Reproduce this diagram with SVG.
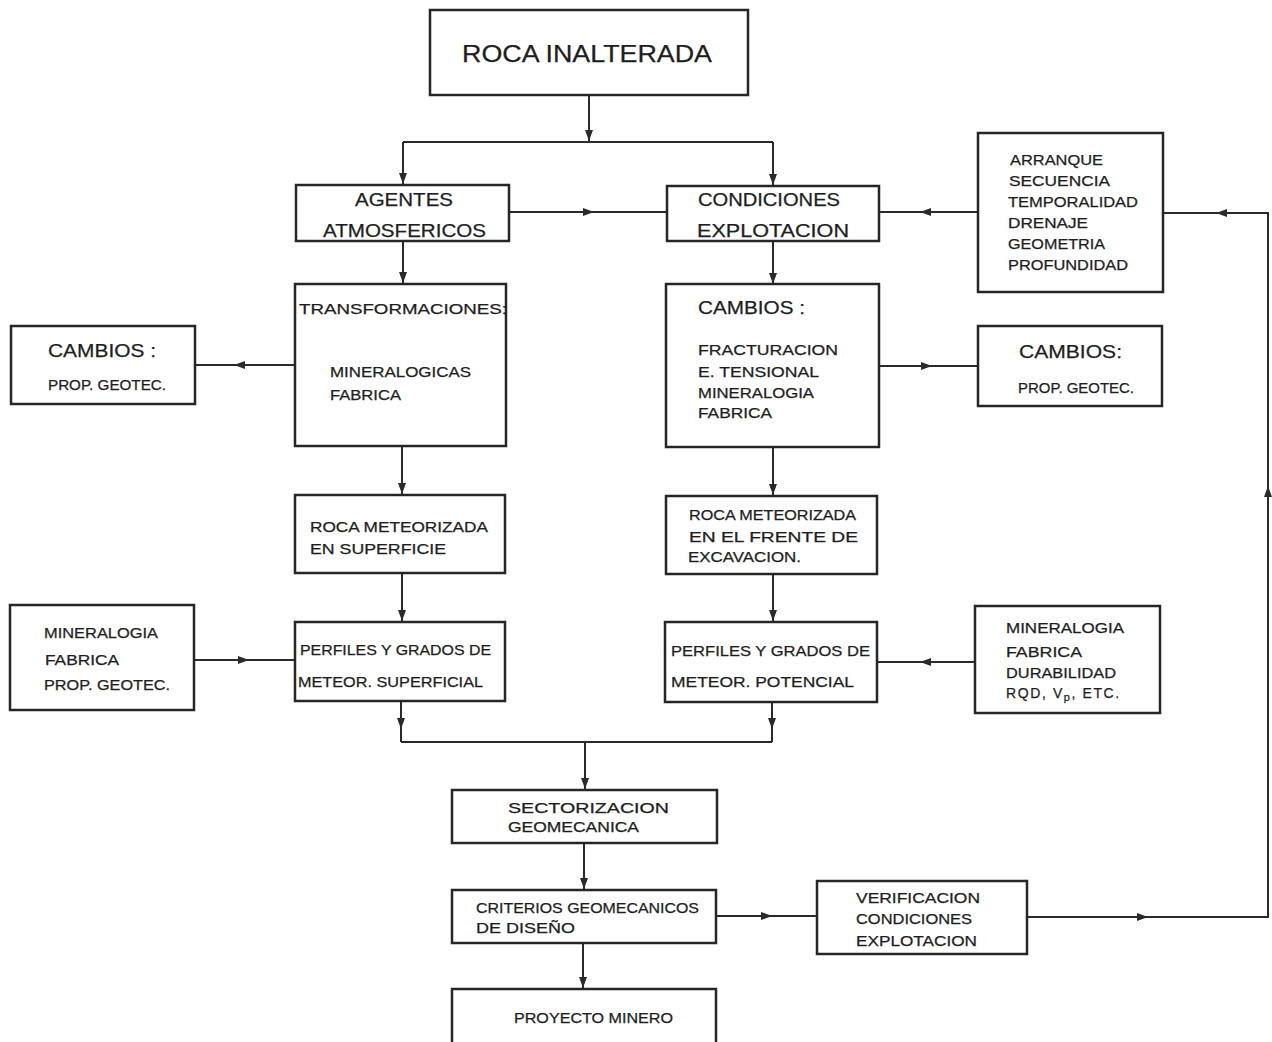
<svg xmlns="http://www.w3.org/2000/svg" xmlns:xlink="http://www.w3.org/1999/xlink" width="1272" height="1042" viewBox="0 0 1272 1042">
<style>
.box{fill:#fff;stroke:#262626;stroke-width:2.5}
.ln{fill:none;stroke:#2a2a2a;stroke-width:2}
.ah{fill:#2a2a2a}
text{font-family:"Liberation Sans",Arial,sans-serif;fill:#1e1e1e;font-size:14px;stroke:#1e1e1e;stroke-width:0.25}
.big{font-size:23px}
.m{font-size:18px}
.c{font-size:19px}
.s{font-size:15px}
</style>
<defs>
<path id="ah" d="M0,0 L-11,-4 L-11,4 Z"/>
</defs>
<rect width="1272" height="1042" fill="#fff"/>

<g id="connectors">
<path class="ln" d="M589,95 V142 M403,142 H773 M403,142 V185 M773,142 V186"/>
<path class="ln" d="M509,212 H667 M978,212 H879"/>
<path class="ln" d="M1026,917 H1268 V213 H1163"/>
<path class="ln" d="M714,916 H817"/>
<path class="ln" d="M403,241 V284 M296,365 H195 M773,241 V285 M879,366 H978"/>
<path class="ln" d="M402,446 V495 M402,573 V622 M194,660 H295"/>
<path class="ln" d="M773,447 V496 M773,574 V622 M975,662 H877"/>
<path class="ln" d="M401,701 V742 M772,702 V742 M401,742 H772 M585,742 V790"/>
<path class="ln" d="M584,843 V890 M583,943 V989"/>
<g class="ah">
<use xlink:href="#ah" transform="translate(589,141) rotate(90)"/>
<use xlink:href="#ah" transform="translate(403,184) rotate(90)"/>
<use xlink:href="#ah" transform="translate(773,185) rotate(90)"/>
<use xlink:href="#ah" transform="translate(594,212)"/>
<use xlink:href="#ah" transform="translate(920,212) rotate(180)"/>
<use xlink:href="#ah" transform="translate(1216,213) rotate(180)"/>
<use xlink:href="#ah" transform="translate(1268,486) rotate(-90)"/>
<use xlink:href="#ah" transform="translate(1148,917)"/>
<use xlink:href="#ah" transform="translate(772,916)"/>
<use xlink:href="#ah" transform="translate(403,283) rotate(90)"/>
<use xlink:href="#ah" transform="translate(234,365) rotate(180)"/>
<use xlink:href="#ah" transform="translate(773,284) rotate(90)"/>
<use xlink:href="#ah" transform="translate(932,366)"/>
<use xlink:href="#ah" transform="translate(402,494) rotate(90)"/>
<use xlink:href="#ah" transform="translate(402,621) rotate(90)"/>
<use xlink:href="#ah" transform="translate(249,660)"/>
<use xlink:href="#ah" transform="translate(773,495) rotate(90)"/>
<use xlink:href="#ah" transform="translate(773,621) rotate(90)"/>
<use xlink:href="#ah" transform="translate(920,662) rotate(180)"/>
<use xlink:href="#ah" transform="translate(401,729) rotate(90)"/>
<use xlink:href="#ah" transform="translate(772,729) rotate(90)"/>
<use xlink:href="#ah" transform="translate(585,789) rotate(90)"/>
<use xlink:href="#ah" transform="translate(584,889) rotate(90)"/>
<use xlink:href="#ah" transform="translate(583,988) rotate(90)"/>
</g>
</g>

<g id="roca-inalterada">
<rect class="box" x="430" y="10" width="318" height="85"/>
<text class="big" x="462" y="62" textLength="250" lengthAdjust="spacingAndGlyphs">ROCA  INALTERADA</text>
</g>

<g id="agentes">
<rect class="box" x="296" y="185" width="213" height="56"/>
<text class="m" x="355" y="206" textLength="98" lengthAdjust="spacingAndGlyphs">AGENTES</text>
<text class="m" x="323" y="237" textLength="163" lengthAdjust="spacingAndGlyphs">ATMOSFERICOS</text>
</g>

<g id="condiciones">
<rect class="box" x="667" y="186" width="212" height="55"/>
<text class="m" x="698" y="206" textLength="142" lengthAdjust="spacingAndGlyphs">CONDICIONES</text>
<text class="m" x="697" y="237" textLength="152" lengthAdjust="spacingAndGlyphs">EXPLOTACION</text>
</g>

<g id="arranque">
<rect class="box" x="978" y="133" width="185" height="159"/>
<text x="1010" y="165" textLength="93" lengthAdjust="spacingAndGlyphs">ARRANQUE</text>
<text x="1009" y="186" textLength="101" lengthAdjust="spacingAndGlyphs">SECUENCIA</text>
<text x="1008" y="207" textLength="130" lengthAdjust="spacingAndGlyphs">TEMPORALIDAD</text>
<text x="1008" y="228" textLength="80" lengthAdjust="spacingAndGlyphs">DRENAJE</text>
<text x="1008" y="249" textLength="97" lengthAdjust="spacingAndGlyphs">GEOMETRIA</text>
<text x="1008" y="270" textLength="120" lengthAdjust="spacingAndGlyphs">PROFUNDIDAD</text>
</g>

<g id="transformaciones">
<rect class="box" x="295" y="284" width="211" height="162"/>
<text class="s" x="299" y="314" textLength="208" lengthAdjust="spacingAndGlyphs">TRANSFORMACIONES:</text>
<text x="330" y="377" textLength="141" lengthAdjust="spacingAndGlyphs">MINERALOGICAS</text>
<text x="330" y="400" textLength="71" lengthAdjust="spacingAndGlyphs">FABRICA</text>
</g>

<g id="cambios-izq">
<rect class="box" x="11" y="326" width="184" height="78"/>
<text class="c" x="48" y="357" textLength="108" lengthAdjust="spacingAndGlyphs">CAMBIOS :</text>
<text x="48" y="390" textLength="118" lengthAdjust="spacingAndGlyphs">PROP. GEOTEC.</text>
</g>

<g id="cambios-centro">
<rect class="box" x="666" y="284" width="213" height="163"/>
<text class="c" x="698" y="314" textLength="107" lengthAdjust="spacingAndGlyphs">CAMBIOS :</text>
<text x="698" y="355" textLength="140" lengthAdjust="spacingAndGlyphs">FRACTURACION</text>
<text x="698" y="377" textLength="121" lengthAdjust="spacingAndGlyphs">E. TENSIONAL</text>
<text x="698" y="398" textLength="116" lengthAdjust="spacingAndGlyphs">MINERALOGIA</text>
<text x="698" y="418" textLength="74" lengthAdjust="spacingAndGlyphs">FABRICA</text>
</g>

<g id="cambios-der">
<rect class="box" x="978" y="326" width="184" height="80"/>
<text class="c" x="1019" y="358" textLength="103" lengthAdjust="spacingAndGlyphs">CAMBIOS:</text>
<text x="1018" y="393" textLength="116" lengthAdjust="spacingAndGlyphs">PROP. GEOTEC.</text>
</g>

<g id="roca-superficie">
<rect class="box" x="295" y="495" width="210" height="78"/>
<text x="310" y="532" textLength="178" lengthAdjust="spacingAndGlyphs">ROCA  METEORIZADA</text>
<text x="310" y="554" textLength="136" lengthAdjust="spacingAndGlyphs">EN  SUPERFICIE</text>
</g>

<g id="perfiles-superficial">
<rect class="box" x="295" y="622" width="210" height="79"/>
<text x="300" y="655" textLength="191" lengthAdjust="spacingAndGlyphs">PERFILES Y GRADOS  DE</text>
<text x="298" y="687" textLength="185" lengthAdjust="spacingAndGlyphs">METEOR. SUPERFICIAL</text>
</g>

<g id="mineralogia-izq">
<rect class="box" x="10" y="605" width="184" height="105"/>
<text x="44" y="638" textLength="114" lengthAdjust="spacingAndGlyphs">MINERALOGIA</text>
<text x="45" y="665" textLength="74" lengthAdjust="spacingAndGlyphs">FABRICA</text>
<text x="44" y="690" textLength="126" lengthAdjust="spacingAndGlyphs">PROP. GEOTEC.</text>
</g>

<g id="roca-frente">
<rect class="box" x="666" y="496" width="211" height="78"/>
<text x="689" y="520" textLength="167" lengthAdjust="spacingAndGlyphs">ROCA METEORIZADA</text>
<text x="689" y="542" textLength="169" lengthAdjust="spacingAndGlyphs">EN  EL  FRENTE  DE</text>
<text x="688" y="562" textLength="113" lengthAdjust="spacingAndGlyphs">EXCAVACION.</text>
</g>

<g id="perfiles-potencial">
<rect class="box" x="665" y="622" width="212" height="80"/>
<text x="671" y="656" textLength="199" lengthAdjust="spacingAndGlyphs">PERFILES Y GRADOS  DE</text>
<text x="671" y="687" textLength="183" lengthAdjust="spacingAndGlyphs">METEOR.  POTENCIAL</text>
</g>

<g id="mineralogia-der">
<rect class="box" x="975" y="606" width="185" height="107"/>
<text x="1006" y="633" textLength="118" lengthAdjust="spacingAndGlyphs">MINERALOGIA</text>
<text x="1006" y="657" textLength="76" lengthAdjust="spacingAndGlyphs">FABRICA</text>
<text x="1006" y="678" textLength="110" lengthAdjust="spacingAndGlyphs">DURABILIDAD</text>
<text x="1006" y="698" letter-spacing="1.6">RQD, V<tspan font-size="11" dy="3">p</tspan><tspan dy="-3">, ETC.</tspan></text>
</g>

<g id="sectorizacion">
<rect class="box" x="452" y="790" width="265" height="53"/>
<text x="508" y="813" textLength="161" lengthAdjust="spacingAndGlyphs">SECTORIZACION</text>
<text x="508" y="832" textLength="131" lengthAdjust="spacingAndGlyphs">GEOMECANICA</text>
</g>

<g id="criterios">
<rect class="box" x="452" y="890" width="264" height="53"/>
<text x="476" y="913" textLength="223" lengthAdjust="spacingAndGlyphs">CRITERIOS  GEOMECANICOS</text>
<text x="476" y="933" textLength="99" lengthAdjust="spacingAndGlyphs">DE  DISEÑO</text>
</g>

<g id="proyecto">
<rect class="box" x="452" y="989" width="264" height="60"/>
<text x="514" y="1023" textLength="159" lengthAdjust="spacingAndGlyphs">PROYECTO MINERO</text>
</g>

<g id="verificacion">
<rect class="box" x="817" y="881" width="210" height="73"/>
<text x="856" y="903" textLength="124" lengthAdjust="spacingAndGlyphs">VERIFICACION</text>
<text x="856" y="924" textLength="116" lengthAdjust="spacingAndGlyphs">CONDICIONES</text>
<text x="856" y="946" textLength="121" lengthAdjust="spacingAndGlyphs">EXPLOTACION</text>
</g>
</svg>
